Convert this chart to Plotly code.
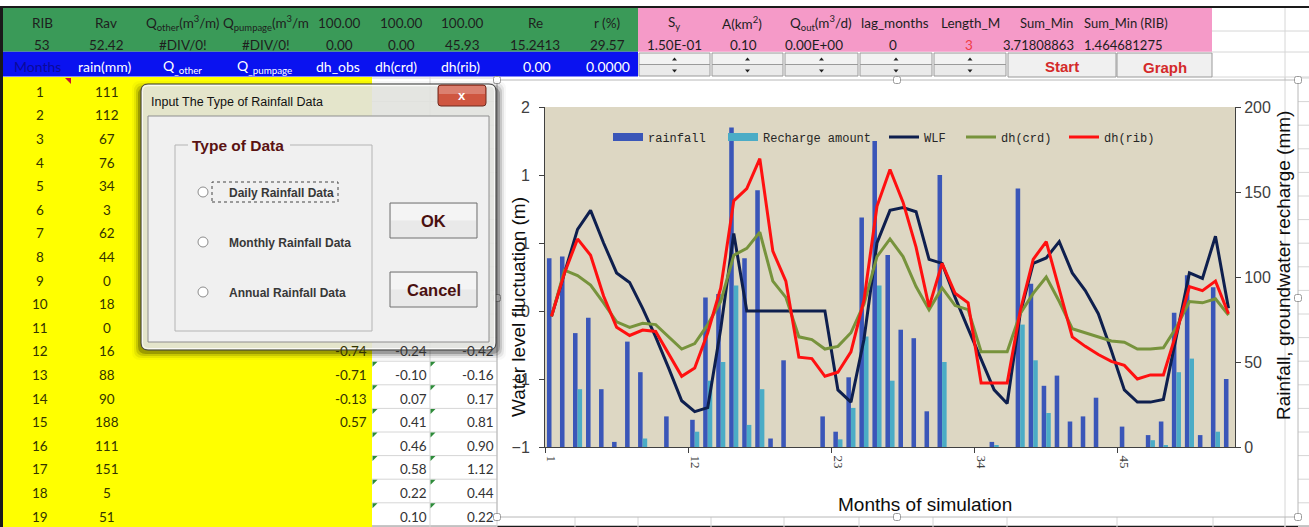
import plotly.graph_objects as go

W, H = 1309, 527

# ---------------- monthly series ----------------
months = list(range(1, 54))
rainfall = [111, 112, 67, 76, 34, 3, 62, 44, 0, 18,
            0, 16, 88, 90, 188, 111, 151, 5, 51, 0,
            0, 18, 9, 41, 135, 180, 113, 69, 64, 21,
            160, 0, 0, 0, 3, 0, 152, 96, 36, 42,
            15, 18, 29, 0, 12, 0, 7, 15, 79, 101,
            7, 94, 40]
recharge = [0, 0, 34, 0, 0, 0, 0, 5, 0, 0,
            0, 9, 39, 50, 95, 13, 34, 0, 0, 0,
            0, 0, 4.5, 23, 65, 95, 39, 0, 0, 0,
            50, 0, 0, 0, 1, 0, 72, 51, 20, 0,
            0, 0, 0, 0, 0, 0, 4, 1, 44, 52,
            0, 9, 0]
# observed water level fluctuation (None = no record)
wlf = [-0.04, 0.28, 0.60, 0.74, 0.50, 0.28, 0.21, 0.02, -0.19, -0.42,
       -0.66, -0.74, -0.71, -0.13, 0.57, None, None, None, None, None,
       None, None, -0.58, -0.67, -0.21, 0.50, 0.74, 0.76, 0.73, 0.38,
       0.35, 0.10, -0.13, -0.36, -0.58, -0.68, -0.02, 0.35, 0.39, 0.51,
       0.28, 0.15, -0.02, -0.29, -0.58, -0.67, -0.67, -0.65, -0.19, 0.28,
       0.24, 0.55, 0.02]
dh_crd = [-0.04, 0.30, 0.26, 0.19, 0.06, -0.08, -0.12, -0.09, -0.10, -0.19,
          -0.28, -0.24, -0.10, 0.07, 0.41, 0.46, 0.58, 0.22, 0.10, -0.19,
          -0.21, -0.28, -0.26, -0.16, 0.05, 0.40, 0.53, 0.40, 0.18, 0.01,
          0.17, 0.04, 0.01, -0.30, -0.30, -0.30, -0.02, 0.13, 0.25, 0.07,
          -0.13, -0.16, -0.19, -0.22, -0.23, -0.28, -0.28, -0.27, -0.12, 0.07,
          0.06, 0.09, -0.03]
dh_rib = [-0.04, 0.28, 0.53, 0.41, 0.11, -0.12, -0.18, -0.14, -0.15, -0.31,
          -0.48, -0.42, -0.16, 0.17, 0.81, 0.90, 1.12, 0.44, 0.22, -0.34,
          -0.35, -0.48, -0.45, -0.30, 0.08, 0.77, 1.04, 0.80, 0.47, 0.03,
          0.35, 0.13, 0.06, -0.53, -0.53, -0.53, 0.00, 0.38, 0.51, 0.17,
          -0.19, -0.26, -0.32, -0.37, -0.40, -0.50, -0.47, -0.47, -0.16, 0.18,
          0.15, 0.22, -0.02]
month_ticks = [1, 12, 23, 34, 45]

# ---------------- worksheet header texts ----------------
green_row1 = ["RIB", "Rav", "Q<sub>other</sub>(m<sup>3</sup>/m)", "Q<sub>pumpage</sub>(m<sup>3</sup>/m",
              "100.00", "100.00", "100.00", "Re", "r (%)"]
green_row2 = ["53", "52.42", "#DIV/0!", "#DIV/0!", "0.00", "0.00", "45.93", "15.2413", "29.57"]
blue_row = ["Months", "rain(mm)", "Q<sub>_other</sub>", "Q<sub>_pumpage</sub>", "dh_obs", "dh(crd)",
            "dh(rib)", "0.00", "0.0000"]
pink_row1 = ["S<sub>y</sub>", "A(km<sup>2</sup>)", "Q<sub>out</sub>(m<sup>3</sup>/d)", "lag_months",
             "Length_M", "Sum_Min", "Sum_Min (RIB)"]
pink_row2 = ["1.50E-01", "0.10", "0.00E+00", "0", "3", "3.71808863", "1.464681275"]
dialog_title = "Input The Type of Rainfall Data"
dialog_group = "Type of Data"
dialog_options = ["Daily Rainfall Data", "Monthly Rainfall Data", "Annual Rainfall Data"]

CELL = "Lato"
SANS = "Liberation Sans"
GREEN, PINK, BLUE, YELLOW = "#3A9A58", "#F59AC8", "#0A12F0", "#FFFF00"
GRID = "#D6D6D6"

shapes, notes = [], []


def X(p):
    return p / W


def Y(p):
    return 1 - p / H


def box(x0, y0, x1, y1, fill=None, line=None, lw=1, dash=None):
    shapes.append(dict(type="rect", xref="paper", yref="paper",
                       x0=X(x0), x1=X(x1), y0=Y(y1), y1=Y(y0),
                       fillcolor=fill or "rgba(0,0,0,0)",
                       line=dict(color=line or "rgba(0,0,0,0)", width=lw if line else 0,
                                 dash=dash or "solid")))


def seg(x0, y0, x1, y1, color, lw=1, dash=None):
    shapes.append(dict(type="line", xref="paper", yref="paper",
                       x0=X(x0), y0=Y(y0), x1=X(x1), y1=Y(y1),
                       line=dict(color=color, width=lw, dash=dash or "solid")))


def poly(pts, fill, line=None, lw=0):
    path = "M " + " L ".join(f"{X(a):.5f},{Y(b):.5f}" for a, b in pts) + " Z"
    shapes.append(dict(type="path", xref="paper", yref="paper", path=path,
                       fillcolor=fill, line=dict(color=line or "rgba(0,0,0,0)", width=lw)))


def rbox(x0, y0, x1, y1, r, fill, line=None, lw=1):
    p = (f"M {X(x0 + r)},{Y(y0)} L {X(x1 - r)},{Y(y0)} Q {X(x1)},{Y(y0)} {X(x1)},{Y(y0 + r)} "
         f"L {X(x1)},{Y(y1 - r)} Q {X(x1)},{Y(y1)} {X(x1 - r)},{Y(y1)} "
         f"L {X(x0 + r)},{Y(y1)} Q {X(x0)},{Y(y1)} {X(x0)},{Y(y1 - r)} "
         f"L {X(x0)},{Y(y0 + r)} Q {X(x0)},{Y(y0)} {X(x0 + r)},{Y(y0)} Z")
    shapes.append(dict(type="path", xref="paper", yref="paper", path=p, fillcolor=fill,
                       line=dict(color=line or "rgba(0,0,0,0)", width=lw if line else 0)))


def circ(cx, cy, r, fill, line, lw=1):
    shapes.append(dict(type="circle", xref="paper", yref="paper",
                       x0=X(cx - r), x1=X(cx + r), y0=Y(cy + r), y1=Y(cy - r),
                       fillcolor=fill, line=dict(color=line, width=lw)))


def text(x, y, s, size=13.5, color="#333333", anchor="center", family=CELL, bold=False, angle=0):
    if bold:
        s = f"<b>{s}</b>"
    notes.append(dict(xref="paper", yref="paper", x=X(x), y=Y(y), text=s, showarrow=False,
                      xanchor=anchor, yanchor="middle", textangle=angle, borderpad=0,
                      font=dict(size=size, color=color, family=family)))


# ---------------- worksheet ----------------
seg(0, 7, W, 7, "#1A1A1A", 2)
seg(1.5, 7, 1.5, H, "#1A1A1A", 3)
seg(0, H - 0.5, W, H - 0.5, "#1A1A1A", 1.5)

# header bands
box(3, 8, 638, 51.7, fill=GREEN)
box(638, 8, 1212, 51.7, fill=PINK)
box(3, 51.7, 638, 76.5, fill=BLUE)
for gy in (31, 52, 77):
    seg(1212, gy, W, gy, GRID)
for gx in (1285,):
    seg(gx, 8, gx, 80, GRID)

green_x = [42, 106, 183, 266, 339, 401, 462, 535, 607]
blue_x = [37, 105, 183, 264, 338, 396, 460, 537, 608]
for xx, s in zip(green_x, green_row1):
    text(xx, 22.5, s, color="#1E1E1E")
for xx, s in zip(green_x, green_row2):
    text(xx, 44.5, s, color="#1E1E1E")
for i, (xx, s) in enumerate(zip(blue_x, blue_row)):
    text(xx, 66.5, s, color="#0A0A9A" if i == 0 else "white", size=14)

pink_x = [674, 742, 821, None, 970, 1046, 1126]
for i, (xx, s) in enumerate(zip(pink_x, pink_row1)):
    if xx is None:
        text(860, 22.5, s, color="#1E1E1E", anchor="left")
    else:
        text(xx, 22.5, s, color="#1E1E1E", size=13 if i >= 5 else 13.5)
pink_x2 = [674, 743, 814, 893, 969, 1038, 1123]
for i, (xx, s) in enumerate(zip(pink_x2, pink_row2)):
    text(xx, 44.5, s, color="#F03C46" if i == 4 else "#1E1E1E", size=13 if i >= 5 else 13.5)

# spin buttons and macro buttons
spin_edges = [638, 711, 784, 859, 933, 1007]
for a, b in zip(spin_edges[:-1], spin_edges[1:]):
    box(a + 1, 53, b - 1, 64.5, fill="#F2F2F2", line="#9A9A9A")
    box(a + 1, 64.5, b - 1, 76, fill="#EAEAEA", line="#9A9A9A")
    c = (a + b) / 2
    poly([(c - 2.5, 60.5), (c + 2.5, 60.5), (c, 57.5)], "#222222")
    poly([(c - 2.5, 69.5), (c + 2.5, 69.5), (c, 72.5)], "#222222")
box(1008, 53, 1116, 77, fill="#F0F0F0", line="#9A9A9A")
box(1117, 53, 1212, 77, fill="#F0F0F0", line="#9A9A9A")
text(1062, 66, "Start", size=15, color="#D42A2A", family=SANS, bold=True)
text(1165, 67, "Graph", size=15, color="#D42A2A", family=SANS, bold=True)

# data rows
ROW0, ROWH = 78, 23.6
box(3, 77, 372, H, fill=YELLOW)
for k in range(20):
    gy = ROW0 + k * ROWH
    seg(372, gy, 497, gy, GRID)
for gx in (430, 497):
    seg(gx, 77, gx, H, GRID)
poly([(65, 78), (71, 78), (71, 84)], "#C8102E")
for i in range(19):
    yc = 91.7 + i * ROWH
    text(40, yc, str(months[i]), color="#333300")
    text(107, yc, str(rainfall[i]), color="#333300")
    if i >= 11:
        if wlf[i] is not None:
            text(368, yc, f"{wlf[i]:.2f}", anchor="right", color="#333300")
        text(428, yc, f"{dh_crd[i]:.2f}", anchor="right")
        text(495, yc, f"{dh_rib[i]:.2f}", anchor="right")
        top = ROW0 + i * ROWH
        poly([(372.5, top + 0.5), (377.5, top + 0.5), (372.5, top + 5.5)], "#2E8B3A")
        poly([(430.5, top + 0.5), (435.5, top + 0.5), (430.5, top + 5.5)], "#2E8B3A")

# cells around the chart object
for gx in (575, 638, 711, 784, 859, 933, 1007, 1117, 1213, 1285):
    seg(gx, 517, gx, H, GRID)
    if gx >= 1285:
        seg(gx, 77, gx, H, GRID)
for k in range(20):
    gy = ROW0 + k * ROWH
    seg(1298, gy, W, gy, GRID)

# chart object frame and selection handles
box(497, 80, 1298, 517, line="#B8B8B8")
for hx, hy in [(497, 80), (897, 80), (1298, 80), (497, 298), (1298, 298),
               (497, 517), (897, 517), (1298, 517)]:
    rbox(hx - 3.5, hy - 3.5, hx + 3.5, hy + 3.5, 2, "white", "#9A9A9A")

# ---------------- dialog window ----------------
for k, a in enumerate((0.22, 0.13, 0.07, 0.03)):
    d = 2 * k
    rbox(141 - 3 - d, 84 + 3 - d, 496 + 4 + d, 350 + 4 + d, 8, f"rgba(0,0,0,{a})")
rbox(141, 84, 496, 350, 7, "rgba(240,241,236,0.86)", "#3C3C3C", 1)
rbox(142.5, 85.5, 494.5, 348.5, 6, "rgba(0,0,0,0)", "rgba(255,255,255,0.8)", 1)
text(150, 101.5, dialog_title, size=12.5, color="#111111", family=SANS, anchor="left")
rbox(438, 85, 486, 106, 3, "#CF5640", "#6E2A1E", 1)
box(439, 86, 485, 94, fill="rgba(255,255,255,0.25)")
text(462, 95.5, "x", size=13, color="white", family=SANS, bold=True)
box(148, 116, 489, 342, fill="#F0F0F0", line="#8E8E8E")

# group box
gtop = 145
seg(175, gtop, 188, gtop, "#B4B4B4")
seg(290, gtop, 372, gtop, "#B4B4B4")
seg(175, gtop, 175, 331, "#B4B4B4")
seg(372, gtop, 372, 331, "#B4B4B4")
seg(175, 331, 372, 331, "#B4B4B4")
text(191, 145, dialog_group, size=15.5, color="#5A1212", family=SANS, bold=True, anchor="left")
for j, opt in enumerate(dialog_options):
    yc = 192 + 50 * j
    circ(203, yc, 5, "white", "#8C8C8C")
    text(228, yc + 1, opt, size=12, color="#383838", family=SANS, bold=True, anchor="left")
box(212, 182, 338, 202, line="#444444", dash="dot")

# push buttons
for y0, y1, lab in ((203, 238, "OK"), (272, 307, "Cancel")):
    box(390, y0, 477, y1, fill="#E9E9E9", line="#707070")
    box(391, y0 + 1, 476, (y0 + y1) / 2, fill="#F4F4F4")
    text(433.5, (y0 + y1) / 2 + 0.5, lab, size=16.5, color="#4A1010", family=SANS, bold=True)

# ---------------- chart ----------------
RAIN_C, RECH_C = "#3A56B8", "#4BACC6"
WLF_C, CRD_C, RIB_C = "#0E1F4E", "#77933C", "#FF1010"

fig = go.Figure()
fig.add_trace(go.Bar(x=months, y=rainfall, name="rainfall", marker=dict(color=RAIN_C, line_width=0),
                     showlegend=False, yaxis="y"))
fig.add_trace(go.Bar(x=months, y=recharge, name="Recharge amount", marker=dict(color=RECH_C, line_width=0),
                     showlegend=False, yaxis="y"))
# blank observation cells are drawn at zero, as the worksheet chart does
wlf_line = [v if v is not None else 0 for v in wlf]
fig.add_trace(go.Scatter(x=months, y=wlf_line, name="WLF", mode="lines",
                         line=dict(color=WLF_C, width=3), yaxis="y2", legend="legend3"))
fig.add_trace(go.Scatter(x=months, y=dh_crd, name="dh(crd)", mode="lines",
                         line=dict(color=CRD_C, width=3), yaxis="y2", legend="legend4"))
fig.add_trace(go.Scatter(x=months, y=dh_rib, name="dh(rib)", mode="lines",
                         line=dict(color=RIB_C, width=3), yaxis="y2", legend="legend5"))
# legend keys for the two bar series
fig.add_trace(go.Scatter(x=[None], y=[None], name="rainfall", mode="lines",
                         line=dict(color=RAIN_C, width=8), yaxis="y2", legend="legend"))
fig.add_trace(go.Scatter(x=[None], y=[None], name="Recharge amount", mode="lines",
                         line=dict(color=RECH_C, width=8), yaxis="y2", legend="legend2"))

leg_font = dict(family="Liberation Mono", size=12, color="#262626")
leg_x = [608, 723, 884, 961, 1064]
legends = {}
for k, lx in enumerate(leg_x):
    key = "legend" if k == 0 else f"legend{k + 1}"
    legends[key] = dict(x=X(lx), y=Y(137), xanchor="left", yanchor="middle",
                        orientation="h", bgcolor="rgba(0,0,0,0)", font=leg_font,
                        borderwidth=0, itemwidth=30)

axis_font = dict(family=SANS, size=16, color="#404040")
fig.update_layout(
    width=W, height=H, margin=dict(l=0, r=0, t=0, b=0, pad=0, autoexpand=False),
    paper_bgcolor="white", plot_bgcolor="#DDD7C3",
    barmode="group", bargap=0.3, bargroupgap=0,
    showlegend=True,
    xaxis=dict(domain=[X(545), X(1235)], range=[0.5, 53.5], tickmode="array", tickvals=month_ticks,
               ticks="", tickangle=90, showline=True, linecolor="#404040", linewidth=1,
               showgrid=False, zeroline=False, ticklabelstandoff=5, automargin=False,
               tickfont=dict(family="Liberation Serif", size=13, color="#404040"),
               minor=dict(tickmode="array", tickvals=[t - 0.5 for t in month_ticks],
                          ticks="outside", ticklen=5, tickcolor="#404040", showgrid=False)),
    yaxis=dict(domain=[Y(447), Y(107)], side="right", range=[0, 200], tick0=0, dtick=50,
               ticks="outside", ticklen=5, tickcolor="#404040", showline=True, automargin=False,
               linecolor="#404040", showgrid=False, zeroline=False, tickfont=axis_font),
    yaxis2=dict(overlaying="y", anchor="x", side="left", range=[-1, 1.5], tick0=-1, dtick=0.5,
                tickformat=".0f", ticks="outside", ticklen=5, tickcolor="#404040", showline=True,
                linecolor="#404040", showgrid=False, zeroline=False, tickfont=axis_font,
                ticklabelstandoff=6, automargin=False),
    shapes=shapes,
    **legends,
)

text(518, 307, "Water level fluctuation (m)", size=19, color="#0D0D0D", family=SANS, angle=-90)
text(1283, 266, "Rainfall, groundwater recharge (mm)", size=19, color="#0D0D0D", family=SANS, angle=-90)
text(925, 504, "Months of simulation", size=19, color="#0D0D0D", family=SANS)
fig.update_layout(annotations=notes)

fig.write_html("out.html")
